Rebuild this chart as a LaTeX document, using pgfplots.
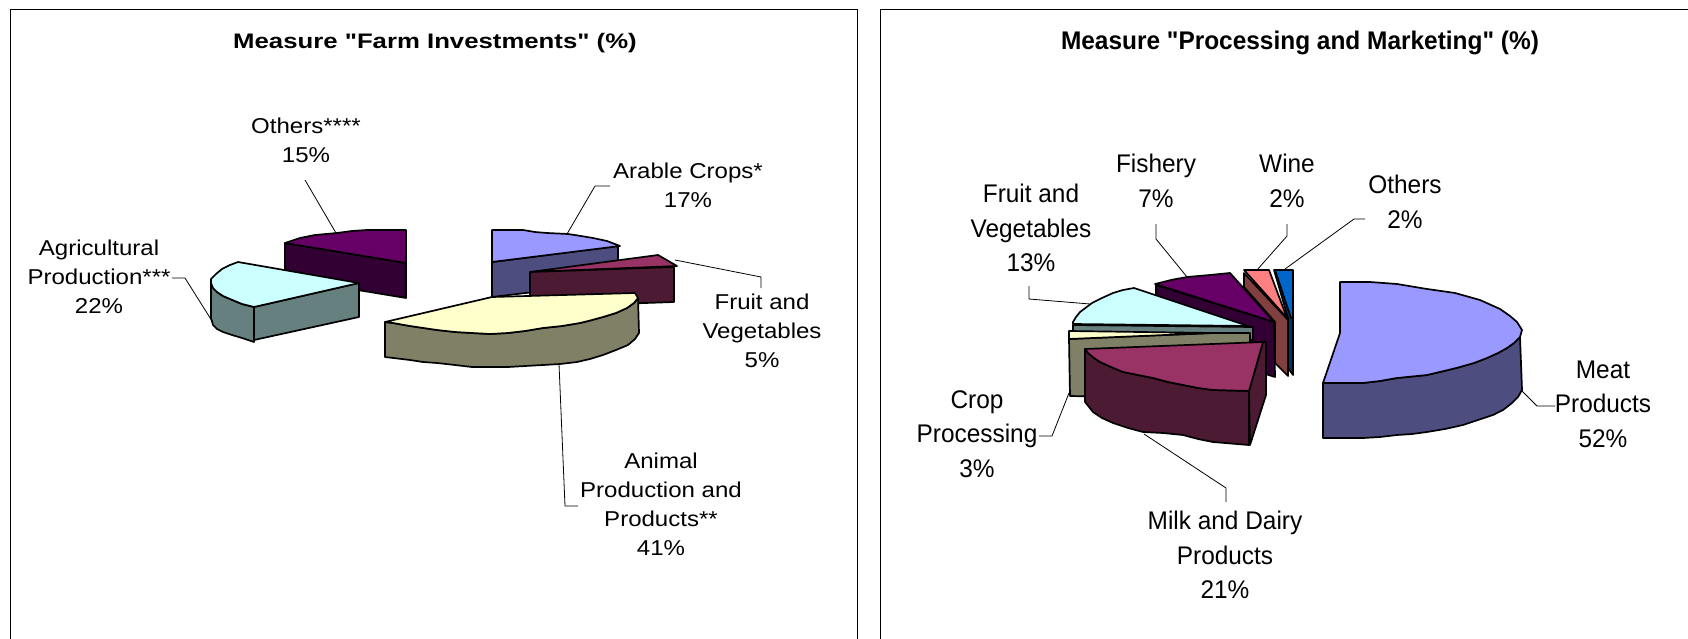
\documentclass[border=0pt]{standalone}
\usepackage{pgfplots}
\pgfplotsset{compat=1.18}
\usepackage{fontspec}
\setmainfont{Liberation Sans}[Ligatures=TeXOff]
\definecolor{blueT}{HTML}{9999FF}\definecolor{blueS}{HTML}{4D4D80}
\definecolor{purT}{HTML}{660066}\definecolor{purS}{HTML}{330033}
\definecolor{cyaT}{HTML}{CCFFFF}\definecolor{cyaS}{HTML}{668080}
\definecolor{yelT}{HTML}{FFFFCC}\definecolor{yelS}{HTML}{808066}
\definecolor{rosT}{HTML}{993366}\definecolor{rosS}{HTML}{4D1A33}
\definecolor{pnkT}{HTML}{FF8080}\definecolor{pnkS}{HTML}{804040}
\definecolor{azuT}{HTML}{0066CC}\definecolor{azuS}{HTML}{003366}
\pgfplotsset{pie/.style={draw=black,line width=1.7pt,line join=round,fill=#1},
 leader/.style={draw=black,line width=0.8pt},
 frameline/.style={draw=black,line width=1pt}}
\newcommand{\lA}[3]{\node[align=center,inner sep=0pt,transform shape,xscale=1.118,font=\fontsize{21.5}{29}\selectfont] at (axis cs:#1,#2) {#3};}
\newcommand{\lB}[3]{\node[align=center,inner sep=0pt,transform shape,xscale=0.957,font=\fontsize{25.5}{34.5}\selectfont] at (axis cs:#1,#2) {#3};}
\begin{document}
\begin{tikzpicture}
\begin{axis}[hide axis,scale only axis,width=1688pt,height=639pt,xmin=0,xmax=1688,ymin=0,ymax=639,y dir=reverse,clip=false]
\path[use as bounding box] (axis cs:0,0) rectangle (axis cs:1688,639);
% frames
\addplot[frameline] coordinates {(10,639)(10,10)(857,10)(857,639)};
\addplot[frameline] coordinates {(880,639)(880,10)(1688,10)};
% --- chart 1 ---
\addplot[pie=purS] coordinates {(285,243)(406,263)(406,298)(285,278)} --cycle;
\addplot[pie=purT] coordinates {(285,243)(300,238)(315,235)(326,234)(337,233)(352,231)(367,230)(406,230)(406,263)} --cycle;
\addplot[pie=cyaS] coordinates {(254,307)(359,283)(359,317)(254,340)} --cycle;
\addplot[pie=cyaS] coordinates {(211,283)(213,288)(217,292)(223,296)(230,299)(242,304)(254,307)(254,342)(242,338)(232,335)(223,332)(217,329)(213,325)(211,318)} --cycle;
\addplot[pie=cyaT] coordinates {(211,279)(216,274)(222,269)(230,265)(238,262)(359,283)(254,307)(242,304)(230,299)(223,296)(217,292)(213,288)(211,283)} --cycle;
\addplot[pie=blueS] coordinates {(492,262)(618,246)(618,282)(492,297)} --cycle;
\addplot[pie=blueT] coordinates {(492,230)(523,230)(535,232)(547,233)(568,234)(581,236)(593,238)(607,241)(620,246)(492,262)} --cycle;
\addplot[pie=rosT] coordinates {(530,272)(658,255)(677,266)} --cycle;
\addplot[pie=rosS] coordinates {(530,272)(674,267)(674,302)(530,307)} --cycle;
\addplot[pie=yelS] coordinates {(385,322)(393,323)(410,326)(437,330)(455,332)(472,333)(490,334)(508,333)(525,331)(543,328)(562,326)(580,323)(592,320)(603,317)(616,313)(627,308)(634,303)(638,298)(639,333)(635,339)(628,345)(616,350)(603,355)(590,359)(577,362)(560,364)(543,365)(525,366)(508,367)(490,367)(472,367)(455,365)(437,363)(423,362)(410,360)(385,357)} --cycle;
\addplot[pie=yelT] coordinates {(385,322)(492,297)(635,293)(638,298)(634,303)(627,308)(616,313)(603,317)(592,320)(580,323)(562,326)(543,328)(525,331)(508,333)(490,334)(472,333)(455,332)(437,330)(410,326)(393,323)} --cycle;
% leaders 1
\addplot[leader] coordinates {(305,180)(336,233)};
\addplot[leader] coordinates {(172,278)(185,278)(212,321)};
\addplot[leader] coordinates {(610,186)(595,186)(567,234)};
\addplot[leader] coordinates {(675,260)(761,277)(761,288)};
\addplot[leader] coordinates {(559,364)(565,506)(578,506)};
% --- chart 2 ---
\addplot[pie=purS] coordinates {(1156,285)(1274,322)(1275,377)(1156,340)} --cycle;
\addplot[pie=purT] coordinates {(1155,284)(1171,280)(1187,277)(1210,275)(1230,273)(1274,322)} --cycle;
\addplot[pie=pnkS] coordinates {(1244,273)(1288,320)(1288,376)(1275,363)(1275,322)(1244,287)} --cycle;
\addplot[pie=pnkT] coordinates {(1244,270)(1269,270)(1287,318)} --cycle;
\addplot[pie=azuS] coordinates {(1274,270)(1278,270)(1293,318)(1293,375)(1288,368)(1288,318)} --cycle;
\addplot[pie=azuT] coordinates {(1275,270)(1293,270)(1293,318)(1291,318)} --cycle;
\addplot[pie=cyaS] coordinates {(1073,325)(1253,327)(1253,340)(1073,340)} --cycle;
\addplot[pie=cyaT] coordinates {(1073,322)(1076,317)(1080,312)(1092,303)(1102,298)(1113,293)(1123,290)(1134,288)(1248,326)(1073,324)} --cycle;
\addplot[pie=yelS] coordinates {(1069,339)(1213,333)(1250,333)(1250,400)(1070,396)} --cycle;
\addplot[pie=yelT] coordinates {(1069,331)(1213,333)(1069,339)} --cycle;
\addplot[pie=rosS] coordinates {(1249,391)(1263,342)(1266,342)(1266,395)(1250,445)} --cycle;
\addplot[pie=rosS] coordinates {(1085,349)(1088,353)(1094,358)(1100,362)(1111,367)(1123,372)(1138,375)(1153,378)(1168,382)(1183,385)(1198,388)(1213,390)(1249,391)(1249,445)(1213,442)(1198,439)(1183,435)(1163,433)(1143,432)(1128,428)(1113,423)(1102,418)(1093,412)(1085,402)} --cycle;
\addplot[pie=rosT] coordinates {(1085,349)(1263,342)(1249,391)(1213,390)(1198,388)(1183,385)(1168,382)(1153,378)(1138,375)(1123,372)(1111,367)(1100,362)(1094,358)(1088,353)} --cycle;
\addplot[pie=blueS] coordinates {(1323,383)(1363,383)(1380,381)(1397,378)(1427,375)(1444,371)(1460,367)(1474,363)(1487,358)(1498,353)(1507,348)(1514,343)(1520,337)(1522,390)(1518,397)(1512,403)(1503,410)(1493,415)(1478,420)(1463,425)(1445,429)(1427,432)(1412,434)(1397,435)(1380,437)(1363,438)(1323,438)} --cycle;
\addplot[pie=blueT] coordinates {(1340,282)(1370,282)(1397,284)(1427,289)(1455,293)(1480,300)(1500,309)(1510,316)(1517,322)(1522,330)(1520,337)(1514,343)(1507,348)(1498,353)(1487,358)(1474,363)(1460,367)(1444,371)(1427,375)(1397,378)(1380,381)(1363,383)(1323,383)(1340,333)} --cycle;
% leaders 2
\addplot[leader] coordinates {(1521,390)(1537,406)(1555,406)};
\addplot[leader] coordinates {(1144,434)(1226,488)(1226,502)};
\addplot[leader] coordinates {(1039,436)(1052,436)(1069,393)};
\addplot[leader] coordinates {(1029,286)(1029,299)(1090,304)};
\addplot[leader] coordinates {(1156,224)(1156,239)(1187,277)};
\addplot[leader] coordinates {(1287,224)(1287,236)(1257,270)};
\addplot[leader] coordinates {(1365,219)(1354,219)(1285,269)};
% text
\node[inner sep=0pt,transform shape,xscale=1.226,font=\fontsize{21}{26}\selectfont\bfseries] at (axis cs:435,43) {Measure "Farm Investments" (\%)};
\node[inner sep=0pt,transform shape,xscale=0.958,font=\fontsize{25.5}{30}\selectfont\bfseries] at (axis cs:1300,43) {Measure "Processing and Marketing" (\%)};
\lA{306}{140}{Others****\\15\%}
\lA{688}{185}{Arable Crops*\\17\%}
\lA{99}{277}{Agricultural\\Production***\\22\%}
\lA{762}{331}{Fruit and\\Vegetables\\5\%}
\lA{661}{504}{Animal\\Production and\\Products**\\41\%}
\lB{1031}{228}{Fruit and\\Vegetables\\13\%}
\lB{1156}{181}{Fishery\\7\%}
\lB{1287}{181}{Wine\\2\%}
\lB{1405}{202}{Others\\2\%}
\lB{1603}{404}{Meat\\Products\\52\%}
\lB{977}{434}{Crop\\Processing\\3\%}
\lB{1225}{555}{Milk and Dairy\\Products\\21\%}
\end{axis}
\end{tikzpicture}
\end{document}
